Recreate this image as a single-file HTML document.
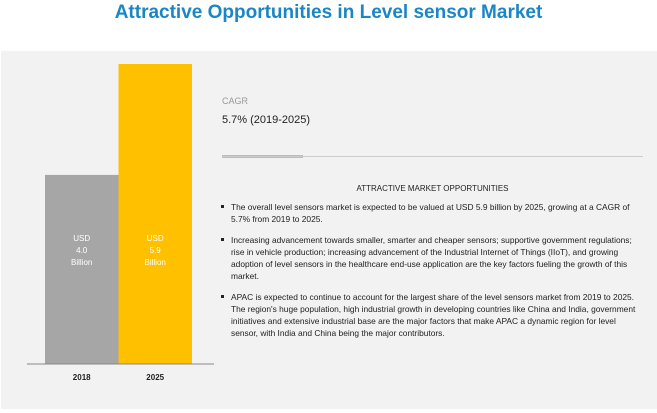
<!DOCTYPE html>
<html><head><meta charset="utf-8"><style>
body{margin:0;width:657px;height:413px;background:#fff;font-family:"Liberation Sans",sans-serif;position:relative;overflow:hidden}
.abs{position:absolute}
#title{left:0;width:657px;top:2px;text-align:center;color:#1b86c6;font-weight:bold;font-size:19px}
#panel{left:1px;top:51px;width:656px;height:358px;background:#f2f2f2}
ul{margin:0;padding:0;list-style:none}
li{position:relative;padding-left:11px;font-size:8.4px;line-height:12px;color:#222;margin-bottom:9px}
li:before{content:"";position:absolute;left:1px;top:4px;width:3px;height:3px;background:#222}
</style></head><body>
<div id="title" class="abs">Attractive Opportunities in Level sensor Market</div>
<div id="panel" class="abs"></div>
<svg class="abs" style="left:0;top:0" width="657" height="413">
<g id="bars"></g>
<line x1="27" y1="364" x2="214" y2="364" stroke="#888" stroke-width="1"/>
</svg>
<div class="abs" style="left:222px;top:96px;font-size:9px;color:#999">CAGR</div>
<div class="abs" style="left:222px;top:114px;font-size:11px;color:#222">5.7% (2019-2025)</div>
<div class="abs" style="left:222px;top:155px;width:81px;height:3px;background:#bbb"></div>
<div class="abs" style="left:222px;top:156px;width:421px;height:1px;background:#ccc"></div>
<div class="abs" style="left:222px;top:184px;width:421px;text-align:center;font-size:8px;color:#222">ATTRACTIVE MARKET OPPORTUNITIES</div>
<ul class="abs" style="left:220px;top:201px;width:425px">
<li>The overall level sensors market is expected to be valued at USD 5.9 billion by 2025, growing at a CAGR of 5.7% from 2019 to 2025.</li>
<li>Increasing advancement towards smaller, smarter and cheaper sensors; supportive government regulations; rise in vehicle production; increasing advancement of the Industrial Internet of Things (IIoT), and growing adoption of level sensors in the healthcare end-use application are the key factors fueling the growth of this market.</li>
<li>APAC is expected to continue to account for the largest share of the level sensors market from 2019 to 2025. The region's huge population, high industrial growth in developing countries like China and India, government initiatives and extensive industrial base are the major factors that make APAC a dynamic region for level sensor, with India and China being the major contributors.</li>
</ul>
<script>
const categories=["2018","2025"];
const values=[4.0,5.9];
const valueLabels=["4.0","5.9"];
const colors=["#a6a6a6","#ffc000"];
const yMin=0.76,yMax=5.9,base=364,top0=64;
function y(v){return base-(v-yMin)/(yMax-yMin)*(base-top0);}
function x(i){return 45+i*73.5;}
const g=document.getElementById('bars');const NS="http://www.w3.org/2000/svg";
categories.forEach((c,i)=>{
 const r=document.createElementNS(NS,'rect');
 r.setAttribute('x',x(i));r.setAttribute('y',y(values[i]));r.setAttribute('width',73.5);r.setAttribute('height',base-y(values[i]));r.setAttribute('fill',colors[i]);
 
 
 g.appendChild(r);
 const lines=["USD",valueLabels[i],"Billion"];
 lines.forEach((s,k)=>{const t=document.createElementNS(NS,'text');t.setAttribute('x',x(i)+36.7);t.setAttribute('y',241+k*12);t.setAttribute('text-anchor','middle');t.setAttribute('font-size','8');t.setAttribute('fill','#fff');t.textContent=s;
 
 
 g.appendChild(t);});
 const l=document.createElementNS(NS,'text');l.setAttribute('x',x(i)+36.7);l.setAttribute('y',380);l.setAttribute('text-anchor','middle');l.setAttribute('font-size','8');l.setAttribute('font-weight','bold');l.setAttribute('fill','#222');l.textContent=c;
 
 
 g.appendChild(l);
});
</script>
</body></html>
